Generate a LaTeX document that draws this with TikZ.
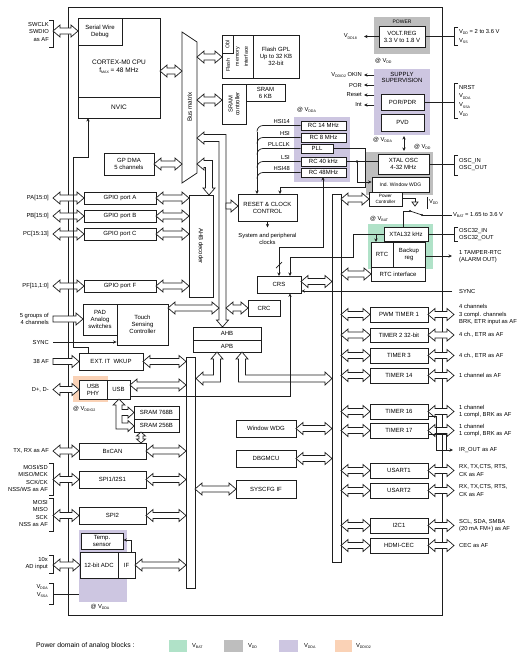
\documentclass[tikz,border=0pt]{standalone}
\usepackage{fontspec}
\setmainfont{Liberation Sans}
\usetikzlibrary{arrows.meta}
\definecolor{lav}{RGB}{205,198,225}
\definecolor{gry}{RGB}{190,190,190}
\definecolor{grn}{RGB}{176,226,200}
\definecolor{pch}{RGB}{250,210,182}
\definecolor{ink}{RGB}{30,30,30}
\newcommand{\Vs}[1]{V\kern-0.2pt\raisebox{-0.45ex}{\fontsize{3.6}{4}\selectfont #1}}
\newcommand{\bx}[7][]{\node[box,#1,minimum width={#5-#3},minimum height={#6-#4}] (#2) at ({(#3+#5)/2},{(#4+#6)/2}) {#7};}
\newcommand{\harr}[3]{\draw[arr] (#1,#3) -- ({#1+7},{#3-6}) -- ({#1+7},{#3-3}) -- ({#2-7},{#3-3}) -- ({#2-7},{#3-6}) -- (#2,#3) -- ({#2-7},{#3+6}) -- ({#2-7},{#3+3}) -- ({#1+7},{#3+3}) -- ({#1+7},{#3+6}) -- cycle;}
\newcommand{\rarr}[3]{\draw[arr] (#1,{#3-3}) -- ({#2-7},{#3-3}) -- ({#2-7},{#3-6}) -- (#2,#3) -- ({#2-7},{#3+6}) -- ({#2-7},{#3+3}) -- (#1,{#3+3}) -- cycle;}
\newcommand{\lbrk}[2]{\draw[wire] (49,#1) -- (53,#1) -- (53,#2) -- (49,#2);}
\newcommand{\rbrk}[2]{\draw[wire] (458,#1) -- (454,#1) -- (454,#2) -- (458,#2);}
\begin{document}
\begin{tikzpicture}[x=1pt,y=-1pt,
 box/.style={draw=ink, fill=white, line width=0.8pt, inner sep=0pt, align=center, font=\fontsize{6}{7}\selectfont},
 arr/.style={draw=ink, fill=white, line width=0.7pt, line join=miter},
 wire/.style={draw=ink, line width=0.7pt},
 warr/.style={wire, -{Stealth[length=3.5pt,width=3.2pt]}},
 wboth/.style={wire, {Stealth[length=3.5pt,width=3.2pt]}-{Stealth[length=3.5pt,width=3.2pt]}},
 lbl/.style={inner sep=0pt, font=\fontsize{5.8}{7.5}\selectfont},
 lbll/.style={lbl, anchor=east, align=right},
 lblr/.style={lbl, anchor=west, align=left},
 rot/.style={rotate=90, inner sep=0pt, align=center, font=\fontsize{5.3}{6.3}\selectfont}]
\fill[white] (0,0) rectangle (527,657);
\useasboundingbox (0,0) rectangle (527,657);
% power domains
\fill[gry] (374,17) rectangle (430,54);
\fill[lav] (374,69) rectangle (430,135);
\fill[lav] (294,117) rectangle (350,182);
\fill[gry] (366,152) rectangle (433,195);
\fill[grn] (368,224) rectangle (433,269);
\fill[pch] (73,376) rectangle (108,402);
\fill[lav] (79,530) rectangle (127,602);
% chip outline
\node[draw=ink, line width=0.9pt, minimum width=374, minimum height=608, inner sep=0pt] (chip) at (255,311) {};
% bars
\bx{rbar}{332}{194}{341}{562}{}
\bx{lbar}{186}{357}{195}{588}{}
% CPU
\bx{cpu}{78}{18}{160}{118}{}
\bx{swd}{78}{18}{122}{45}{Serial Wire\\Debug}
\draw[wire] (78,97) -- (160,97);
\node[lbl, font=\fontsize{6.5}{7.5}\selectfont, align=center] (cputxt) at (119,67) {CORTEX-M0 CPU\\f\raisebox{-0.45ex}{\fontsize{3.6}{4}\selectfont MAX} = 48 MHz};
\node[lbl, font=\fontsize{6.5}{7.5}\selectfont] (nvic) at (119,107.5) {NVIC};
% bus matrix
\draw[draw=ink, fill=white, line width=0.8pt] (182,32) -- (197,42) -- (197,173) -- (182,183) -- cycle;
\node[rot, font=\fontsize{6.3}{7}\selectfont] (busm) at (189.5,107) {Bus matrix};
% flash
\bx{fif}{222}{35}{253}{78}{}
\bx{obl}{222}{35}{233}{53}{}
\node[rot] (toobl) at (227.5,44) {Obl};
\node[rot] (tflash) at (228,65) {Flash};
\node[rot] (tmem) at (238,56.5) {memory};
\node[rot] (tintf) at (246,56.5) {interface};
\bx{flash}{253}{35}{299}{78}{Flash GPL\\Up to 32 KB\\32-bit}
% SRAM
\bx{sramc}{222}{84}{246}{124}{}
\node[rot, font=\fontsize{5.8}{6.8}\selectfont] (tsramc) at (234,104) {SRAM\\controller};
\bx{sram}{246}{84}{285}{101}{SRAM\\6 KB}
% arrows around bus matrix
\harr{160}{182}{71}
\harr{197}{222}{57}
\harr{197}{222}{100}
\bx{dma}{104}{153}{154}{175}{GP DMA\\5 channels}
\harr{154}{182}{164}
% thick L arrows
\draw[arr] (197,164) -- (204,158) -- (204,160.5) -- (212.5,160.5) -- (212.5,188) -- (215,188) -- (209,195) -- (203,188) -- (205.5,188) -- (205.5,167.5) -- (204,167.5) -- (204,170) -- cycle;
\draw[arr] (197,138) -- (204,132) -- (204,134.5) -- (226,134.5) -- (226,320) -- (228.5,320) -- (222.5,327) -- (216.5,320) -- (219,320) -- (219,141.5) -- (204,141.5) -- (204,144) -- cycle;
\rarr{226}{238}{206}
% AHB decoder and GPIO
\bx{ahbd}{189}{195}{213}{297}{}
\node[rot, rotate=180, font=\fontsize{6}{7}\selectfont] (tahbd) at (201,246) {AHB decoder};
\bx{gpa}{84}{192}{156}{204}{GPIO port A}
\bx{gpb}{84}{210}{156}{222}{GPIO port B}
\bx{gpc}{84}{228}{156}{240}{GPIO port C}
\bx{gpf}{84}{280}{156}{292}{GPIO port F}
\harr{53}{84}{198}\harr{156}{189}{198}
\harr{53}{84}{216}\harr{156}{189}{216}
\harr{53}{84}{234}\harr{156}{189}{234}
\harr{53}{84}{286}\harr{156}{189}{286}
\node[lbll] (lpa) at (49,198) {PA[15:0]};
\node[lbll] (lpb) at (49,216) {PB[15:0]};
\node[lbll] (lpc) at (49,234) {PC[15:13]};
\node[lbll] (lpf) at (49,286) {PF[11,1:0]};
% SWD
\node[lbll] (lswd) at (49,31.5) {SWCLK\\SWDIO\\as AF};
\lbrk{20}{47}
\harr{53}{78}{31}
% NVIC line
\draw[wire, {Stealth[length=3.5pt,width=3.2pt]}-] (88,118) -- (88,157) -- (73,157) -- (73,347) -- (88,347) -- (88,353);
% POWER
\node[lbl, font=\fontsize{5}{6}\selectfont] (tpower) at (402,21.5) {POWER};
\bx{vreg}{379}{26}{425}{47}{VOLT.REG\\3.3 V to 1.8 V}
\draw[warr] (vreg.west) -- (364,36.5);
\node[lbll] (lvdd18) at (357,36.5) {\Vs{DD18}};
\draw[wire] (vreg.east) -- (454,36.5);
\rbrk{27}{45}
\node[lblr] (lvdd) at (459,32) {\Vs{DD} = 2 to 3.6 V};
\node[lblr] (lvss) at (459,41) {\Vs{SS}};
\node[lblr] (atvdd1) at (375,61) {@ \Vs{DD}};
% SUPPLY
\node[lbl, align=center, font=\fontsize{6}{6.8}\selectfont] (tsup) at (402,77.5) {SUPPLY\\SUPERVISION};
\bx{por}{381}{94}{424}{110}{POR/PDR}
\bx{pvd}{381}{114}{424}{131}{PVD}
\draw[warr] (374,75) -- (364,75);
\draw[warr] (374,85) -- (364,85);
\draw[warr] (374,95) -- (364,95);
\draw[warr] (374,105) -- (364,105);
\node[lbll] (lokin) at (362,75) {\Vs{DDIO2} OKIN};
\node[lbll] (lpor) at (362,85) {POR};
\node[lbll] (lreset) at (362,95) {Reset};
\node[lbll] (lint) at (362,105) {Int};
\draw[wire] (por.east) -- (454,102);
\rbrk{83}{118}
\node[lblr] (lnrst) at (459,87) {NRST};
\node[lblr] (lvdda) at (459,96.5) {\Vs{DDA}};
\node[lblr] (lvssa) at (459,105.5) {\Vs{SSA}};
\node[lblr] (lvdd2) at (459,114) {\Vs{DD}};
\node[lblr] (atvdda1) at (373,140) {@ \Vs{DDA}};
\draw[wboth] (404,136) -- (404,151);
\node[lblr] (atvdd2) at (414,147) {@ \Vs{DD}};
% RC oscillators
\node[lblr] (atvdda2) at (297,110) {@ \Vs{DDA}};
\bx{rc14}{301}{121}{346}{130}{RC 14 MHz}
\bx{rc8}{301}{133}{346}{142}{RC 8 MHz}
\bx{pll}{301}{144}{333}{153}{PLL}
\bx{rc40}{301}{157}{346}{166}{RC 40 kHz}
\bx{rc48}{301}{168}{346}{177}{RC 48MHz}
\node[lbl, anchor=south east] (lhsi14) at (290,124) {HSI14};
\node[lbl, anchor=south east] (lhsi) at (290,136) {HSI};
\node[lbl, anchor=south east] (lpllclk) at (290,147) {PLLCLK};
\node[lbl, anchor=south east] (llsi) at (290,160) {LSI};
\node[lbl, anchor=south east] (lhsi48) at (290,171) {HSI48};
% RCC
\bx{rcc}{238}{194}{297}{221}{RESET \& CLOCK\\CONTROL}
\draw[wire] (rc14.west) -- (263,125.5) to[out=180,in=90] (257,131.5);
\draw[wire] (rc8.west) -- (263,137.5) to[out=180,in=90] (257,143.5);
\draw[wire] (pll.west) -- (263,148.5) to[out=180,in=90] (257,154.5);
\draw[wire] (rc40.west) -- (263,161.5) to[out=180,in=90] (257,167.5);
\draw[wire] (rc48.west) -- (263,172.5) to[out=180,in=90] (257,178.5);
\draw[warr] (257,131.5) -- (257,194);
\draw[warr] (pll.east) -- (365,148.5) -- (365,187) -- (280,187) -- (280,194);
\node[lbl, align=center] (tsys) at (267.5,239) {System and peripheral\\clocks};
\draw[warr] (rcc.south) -- ++(0,6);
% XTAL OSC group
\bx{xosc}{378}{154}{429}{174}{XTAL OSC\\4-32 MHz}
\bx[font=\fontsize{5}{6}\selectfont]{iwdg}{372}{177}{429}{192}{Ind. Window WDG}
\bx[font=\fontsize{4.6}{5.4}\selectfont]{pwc}{369}{192}{402}{206}{Power\\Controller}
\draw[wire] (rc40.east) -- (xosc.west |- 0,161.5);
\fill[ink] (357,161.5) circle (1.3);
\draw[warr] (357,161.5) -- (357,182) -- (iwdg.west |- 0,182);
\draw[wire] (xosc.east) -- (454,164);
\rbrk{155}{175}
\node[lblr] (losc) at (459,164.5) {OSC\_IN\\OSC\_OUT};
\harr{341}{369}{199}
% switch
\draw[wire] (402,198) -- (415,198) -- (415,202);
\draw[wire] (412,202) -- (418,202) -- (415,206) -- cycle;
\draw[wire] (427,197) -- (427,209);
\node[lblr] (lvdd3) at (429,202) {\Vs{DD}};
\draw[wire] (403,227) -- (403,211) -- (410,211);
\fill[ink] (410,211) circle (1.1);
\draw[wire] (410,211) -- (422,215);
\fill[ink] (422,215) circle (1.1);
\draw[wire] (422,215) -- (452,215);
\node[lblr] (lvbat) at (453,215) {\Vs{BAT} = 1.65 to 3.6 V};
\node[lblr] (atvbat) at (370,219) {@ \Vs{BAT}};
% RTC
\bx{x32}{384}{227}{428}{241}{XTAL32 kHz}
\bx{rtc}{371}{242}{393}{267}{RTC}
\bx{bkp}{393}{242}{425}{267}{Backup\\reg}
\bx{rtci}{371}{267}{425}{281}{RTC interface}
\harr{341}{371}{274}
\draw[warr] (376,234) -- (376,242);
\draw[warr] (x32.west) -- (353,234) -- (353,257) -- (290,257) -- (290,276);
\draw[wire] (x32.east) -- (454,234);
\rbrk{227}{241}
\node[lblr] (losc32) at (459,234.5) {OSC32\_IN\\OSC32\_OUT};
\draw[warr] (425,256) -- (452,256);
\node[lblr] (ltamper) at (459,256.5) {1 TAMPER-RTC\\(ALARM OUT)};
% CRS, CRC, AHB
\bx{crs}{257}{276}{301}{293}{CRS}
\draw[wboth] (323,177) -- (323,247) -- (279,247) -- (279,276);
\draw[wire] (276,268) -- (282,262);
\harr{301}{332}{281.5}
\draw[warr] (452,291) -- (crs.east |- 0,291);
\node[lblr] (lsync2) at (459,291) {SYNC};
\bx{crc}{248}{300}{280}{316}{CRC}
\harr{226}{248}{308}
\bx{ahb}{193}{327}{261}{340}{AHB}
\bx{apb}{193}{340}{261}{352}{APB}
\draw[arr] (217,352) -- (223,359) -- (220.5,359) -- (220.5,382) -- (203,382) -- (203,385) -- (196,378.5) -- (203,372) -- (203,375) -- (213.5,375) -- (213.5,359) -- (211,359) -- cycle;
\draw[arr] (242,352) -- (248,359) -- (245.5,359) -- (245.5,375) -- (325,375) -- (325,372) -- (332,378.5) -- (325,385) -- (325,382) -- (238.5,382) -- (238.5,359) -- (236,359) -- cycle;
% touch sensing
\bx{pad}{83}{304}{117}{335}{PAD\\Analog\\switches}
\bx{tsc}{117}{304}{168}{345}{Touch\\Sensing\\Controller}
\harr{168}{219}{308}
\rarr{53}{83}{319}
\node[lbll] (l5g) at (49,319) {5 groups of\\4 channels};
\draw[warr] (53,342) -- (tsc.west |- 0,342);
\node[lbll] (lsync1) at (49,342) {SYNC};
% EXT
\bx{ext}{79}{353}{143}{370}{EXT. IT\ \ WKUP}
\rarr{53}{79}{361.5}
\harr{143}{186}{361.5}
\node[lbll] (l38) at (49,361.5) {38 AF};
% USB
\bx{usbphy}{79}{380}{107}{399}{USB\\PHY}
\bx{usb}{107}{380}{130}{399}{USB}
\harr{53}{79}{389.5}
\harr{130}{186}{385}
\node[lbll] (ldpm) at (49,389.5) {D+, D-};
\node[lblr] (atvddio2) at (73,409) {@ \Vs{DDIO2}};
\draw[warr] (130,396) -- (290,396) -- (crs.south -| 290,0);
\bx{s768}{134}{406}{179}{419}{SRAM 768B}
\bx{s256}{134}{419}{179}{432}{SRAM 256B}
\draw[arr] (119,399) -- (125,405) -- (122,405) -- (122,409.5) -- (128,409.5) -- (128,407) -- (134,412.5) -- (128,418) -- (128,415.5) -- (122,415.5) -- (122,423) -- (128,423) -- (128,420.5) -- (134,426) -- (128,431.5) -- (128,429) -- (116,429) -- (116,405) -- (113,405) -- cycle;
\draw[arr] (141,432) -- (145.5,436) -- (143,436) -- (143,439) -- (145.5,439) -- (141,443) -- (136.5,439) -- (139,439) -- (139,436) -- (136.5,436) -- cycle;
% CAN, SPI
\bx{can}{79}{443}{146}{459}{BxCAN}
\harr{53}{79}{451}\harr{146}{186}{451}
\node[lbll] (lcan) at (49,451) {TX, RX as AF};
\bx{spi1}{79}{471}{146}{488}{SPI1/I2S1}
\harr{53}{79}{479.5}\harr{146}{186}{479.5}
\lbrk{463}{495}
\node[lbll] (lspi1) at (48,478.5) {MOSI/SD\\MISO/MCK\\SCK/CK\\NSS/WS as AF};
\bx{spi2}{79}{507}{146}{524}{SPI2}
\harr{53}{79}{515.5}\harr{146}{186}{515.5}
\lbrk{498}{531}
\node[lbll] (lspi2) at (48,513.5) {MOSI\\MISO\\SCK\\NSS as AF};
% ADC
\bx{temp}{81}{533}{123}{549}{Temp.\\sensor}
\bx{adc}{80}{552}{118}{578}{12-bit ADC}
\bx{adcif}{118}{552}{135}{578}{IF}
\draw[warr] (131,552) -- (131,540) -- (temp.east |- 0,540);
\harr{53}{80}{565}\harr{135}{186}{565}
\lbrk{555}{573}
\node[lbll] (lad) at (48,563.5) {10x\\AD input};
\lbrk{583}{604}
\draw[wire] (53,594) -- (79,594);
\node[lbll] (lvdda3) at (48,591) {\Vs{DDA}\\\Vs{SSA}};
\node[lbl] (atvdda3) at (100,607) {@ \Vs{DDA}};
% middle column
\bx{wwdg}{236}{420}{296}{437}{Window WDG}
\bx{dbg}{236}{450}{296}{467}{DBGMCU}
\bx{syscfg}{236}{480}{296}{498}{SYSCFG IF}
\harr{296}{332}{428.5}
\harr{296}{332}{458.5}
\harr{195}{236}{489}
% timers
\bx{tim1}{370}{307}{428}{322}{PWM TIMER 1}
\bx{tim2}{370}{328}{428}{342}{TIMER 2 32-bit}
\bx{tim3}{370}{348}{428}{363}{TIMER 3}
\bx{tim14}{370}{368}{428}{383}{TIMER 14}
\bx{tim16}{370}{404}{428}{419}{TIMER 16}
\bx{tim17}{370}{423}{428}{438}{TIMER 17}
\bx{usart1}{370}{463}{428}{478}{USART1}
\bx{usart2}{370}{483}{428}{498}{USART2}
\bx{i2c}{370}{518}{428}{533}{I2C1}
\bx{cec}{370}{538}{428}{553}{HDMI-CEC}
\foreach \yy in {314.5,335,355.5,375.5,411.5,430.5,470.5,490.5,525.5,545.5}{\harr{341}{370}{\yy}\harr{428}{454}{\yy}}
\draw[wire] (428,416) -- (436,416) -- (436,450);
\draw[wire] (428,434) -- (446,434) -- (446,450);
\draw[warr] (436,450) -- (453,450);
\node[lblr] (lt1) at (459,314.5) {4 channels\\3 compl. channels\\BRK, ETR input as AF};
\node[lblr] (lt2) at (459,335) {4 ch., ETR as AF};
\node[lblr] (lt3) at (459,355.5) {4 ch., ETR as AF};
\node[lblr] (lt14) at (459,375.5) {1 channel as AF};
\node[lblr] (lt16) at (459,411.5) {1 channel\\1 compl, BRK as AF};
\node[lblr] (lt17) at (459,430.5) {1 channel\\1 compl, BRK as AF};
\node[lblr] (lir) at (459,450) {IR\_OUT as AF};
\node[lblr] (lu1) at (459,470.5) {RX, TX,CTS, RTS,\\CK as AF};
\node[lblr] (lu2) at (459,490.5) {RX, TX,CTS, RTS,\\CK as AF};
\node[lblr] (li2c) at (459,525.5) {SCL, SDA, SMBA\\(20 mA FM+) as AF};
\node[lblr] (lcec) at (459,545.5) {CEC as AF};
% legend
\node[lbl, anchor=west, font=\fontsize{6.8}{8}\selectfont] (leg) at (36,646) {Power domain of analog blocks :};
\fill[grn] (169,640) rectangle (187,652);
\node[lblr] (legbat) at (192,646) {\Vs{BAT}};
\fill[gry] (224,640) rectangle (243,652);
\node[lblr] (legdd) at (248,646) {\Vs{DD}};
\fill[lav] (279,640) rectangle (298,652);
\node[lblr] (legdda) at (304,646) {\Vs{DDA}};
\fill[pch] (335,640) rectangle (352,652);
\node[lblr] (legddio) at (356,646) {\Vs{DDIO2}};
\end{tikzpicture}
\end{document}
